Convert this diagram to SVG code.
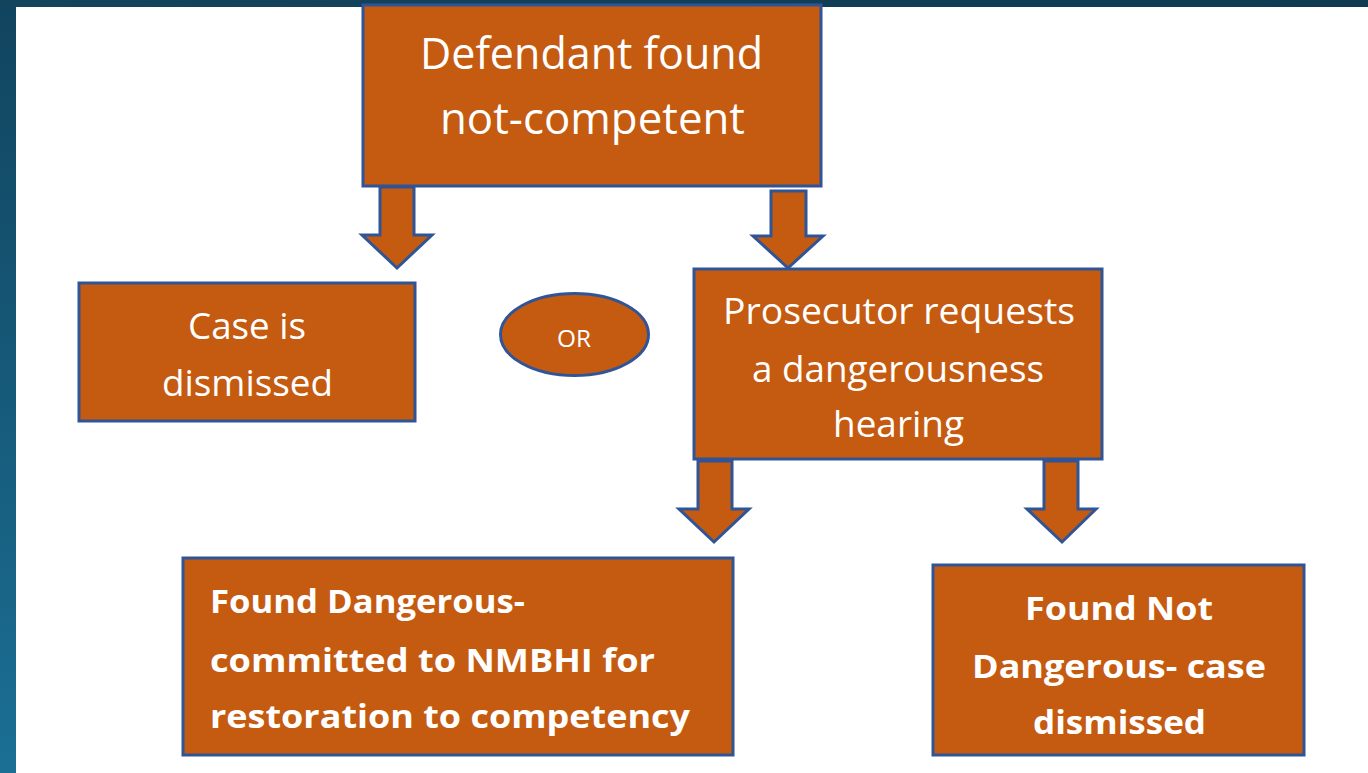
<svg xmlns="http://www.w3.org/2000/svg" width="1368" height="773" viewBox="0 0 1368 773">
<defs>
<linearGradient id="edge" x1="0" y1="0" x2="0" y2="1">
<stop offset="0" stop-color="#11445e"/>
<stop offset="1" stop-color="#1b6f95"/>
</linearGradient>
<linearGradient id="topedge" x1="0" y1="0" x2="1" y2="0">
<stop offset="0" stop-color="#12445e"/>
<stop offset="1" stop-color="#0f3a52"/>
</linearGradient>
</defs>
<style>
.box{fill:#c55a11;stroke:#2f5597;stroke-width:3}
.arr{fill:#c55a11;stroke:#2f5597;stroke-width:3;stroke-linejoin:miter}
.t{font-family:"Open Sans","Noto Sans","Liberation Sans",sans-serif;fill:#ffffff;text-anchor:middle}
.b{font-family:"Open Sans","Noto Sans","Liberation Sans",sans-serif;fill:#ffffff;font-weight:bold}
</style>
<rect x="0" y="0" width="1368" height="773" fill="#ffffff"/>
<rect x="0" y="0" width="16" height="773" fill="url(#edge)"/>
<rect x="0" y="0" width="1368" height="7" fill="url(#topedge)"/>
<g id="connectors">
<path class="arr" d="M380,187 L414,187 L414,235 L432,235 L397,268 L362,235 L380,235 Z"/>
<path class="arr" d="M771,191 L806,191 L806,236 L823,236 L788,268 L753,236 L771,236 Z"/>
<path class="arr" d="M698,461 L732,461 L732,509 L749,509 L714,542 L679,509 L698,509 Z"/>
<path class="arr" d="M1044,461 L1078,461 L1078,509 L1096,509 L1062,542 L1027,509 L1044,509 Z"/>
</g>
<g id="n-top">
<rect class="box" x="363" y="5" width="458" height="181"/>
<text class="t" font-size="43" x="591.5" y="69" textLength="343" lengthAdjust="spacingAndGlyphs">Defendant found</text>
<text class="t" font-size="43" x="592.5" y="134" textLength="305" lengthAdjust="spacingAndGlyphs">not-competent</text>
</g>
<g id="n-case">
<rect class="box" x="79" y="283" width="336" height="138"/>
<text class="t" font-size="36" x="247" y="339" textLength="118" lengthAdjust="spacingAndGlyphs">Case is</text>
<text class="t" font-size="36" x="247.5" y="396" textLength="171" lengthAdjust="spacingAndGlyphs">dismissed</text>
</g>
<g id="n-or">
<ellipse class="box" cx="574.5" cy="334.5" rx="74" ry="41"/>
<text class="t" font-size="23" x="574" y="347" textLength="34" lengthAdjust="spacingAndGlyphs">OR</text>
</g>
<g id="n-prosecutor">
<rect class="box" x="694" y="269" width="408" height="190"/>
<text class="t" font-size="36" x="899" y="324" textLength="352" lengthAdjust="spacingAndGlyphs">Prosecutor requests</text>
<text class="t" font-size="36" x="898" y="382" textLength="292" lengthAdjust="spacingAndGlyphs">a dangerousness</text>
<text class="t" font-size="36" x="898.5" y="437" textLength="131" lengthAdjust="spacingAndGlyphs">hearing</text>
</g>
<g id="n-dangerous">
<rect class="box" x="183" y="558" width="550" height="197"/>
<text class="b" font-size="33" x="210" y="613" textLength="315" lengthAdjust="spacingAndGlyphs">Found Dangerous-</text>
<text class="b" font-size="33" x="210" y="672" textLength="445" lengthAdjust="spacingAndGlyphs">committed to NMBHI for</text>
<text class="b" font-size="33" x="210" y="728" textLength="480" lengthAdjust="spacingAndGlyphs">restoration to competency</text>
</g>
<g id="n-notdangerous">
<rect class="box" x="933" y="565" width="371" height="190"/>
<text class="b" font-size="33" x="1119" y="620" text-anchor="middle" textLength="188" lengthAdjust="spacingAndGlyphs">Found Not</text>
<text class="b" font-size="33" x="1119" y="678" text-anchor="middle" textLength="294" lengthAdjust="spacingAndGlyphs">Dangerous- case</text>
<text class="b" font-size="33" x="1119.5" y="734" text-anchor="middle" textLength="173" lengthAdjust="spacingAndGlyphs">dismissed</text>
</g>
</svg>
